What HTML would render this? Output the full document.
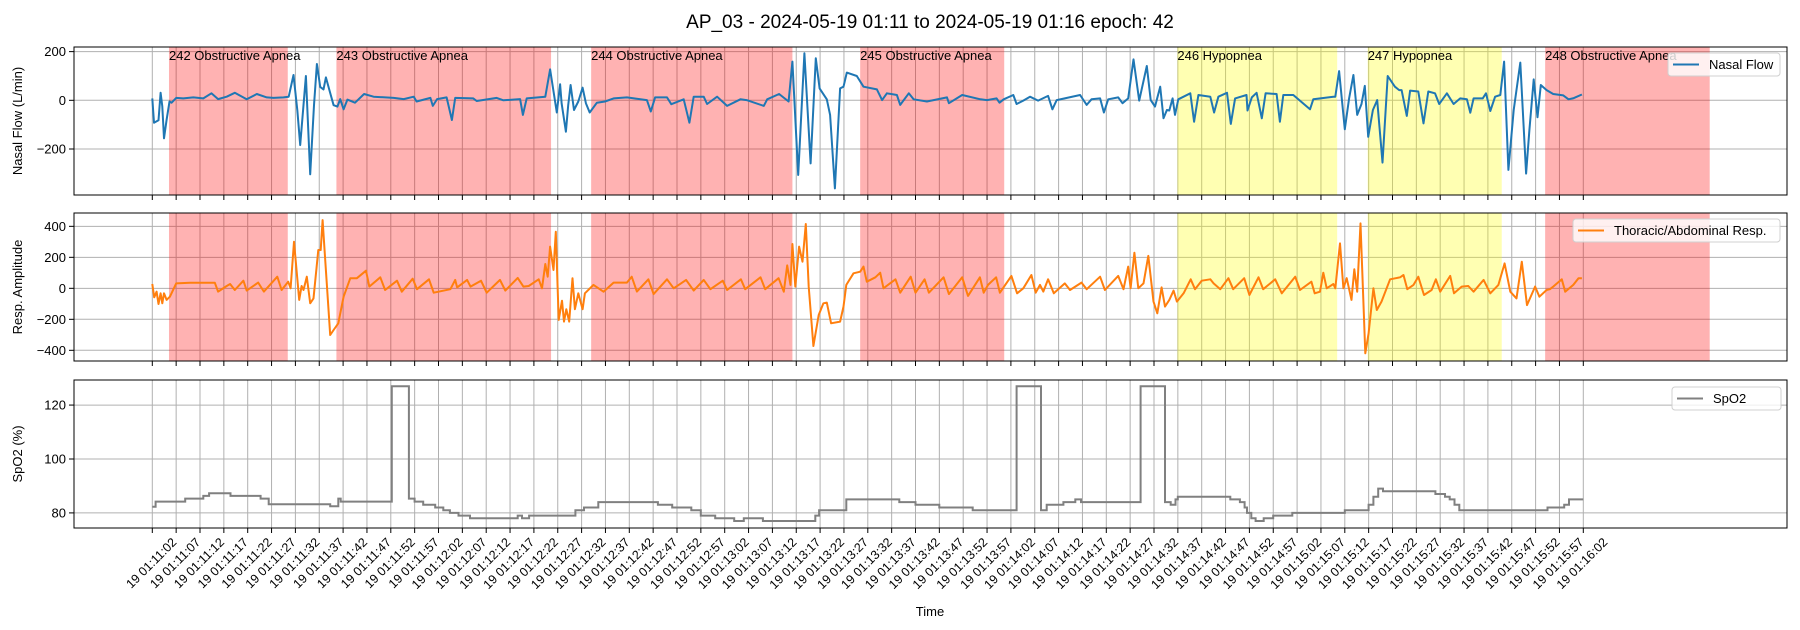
<!DOCTYPE html>
<html><head><meta charset="utf-8"><style>
body{margin:0;background:#fff}
svg{display:block;font-family:"Liberation Sans","DejaVu Sans",sans-serif}
</style></head><body>
<svg id="chart" width="1800" height="630" viewBox="0 0 1800 630" xmlns="http://www.w3.org/2000/svg">
<text x="930" y="28" font-size="19" text-anchor="middle">AP_03 - 2024-05-19 01:11 to 2024-05-19 01:16 epoch: 42</text>
<text x="930" y="616" font-size="13" text-anchor="middle">Time</text>
</svg>
<script>
const flowT=[0,0.35,1.3,1.75,2.1,2.45,3,3.6,4.05,5,6.5,8.6,10.7,12.4,13.8,15.6,17.3,19.8,21.9,24,25.4,27.5,28.6,29.6,30.4,31,32.2,33.1,33.9,34.5,35.2,35.9,36.4,37.3,38,38.8,39.4,40.1,40.9,42.5,44.4,46.4,50.6,52.7,54.8,55.4,58.3,58.8,59.7,61.7,62.8,63.5,67.3,68,72.2,73.6,77.1,77.7,78.5,82.4,83.4,84.8,85.5,85.8,86.7,87.2,87.7,88.4,89.3,90.2,90.9,91.7,93.2,94.9,96.7,99.5,103.7,104.5,105.4,107.9,108.8,111.4,112.6,113.5,115.6,116.3,118.4,120.5,123.3,124.6,128.2,128.9,131.4,133.4,134.2,135.4,136.7,138,139.1,139.9,141.4,142.1,143.1,144.2,144.9,145.6,147.7,149.1,151.9,153,154,156.1,156.8,158.6,159.6,162.4,166.6,167,169.8,173.6,175,177,177.6,178.5,180.5,181.2,182.6,184,185.7,187.8,188.7,189.6,194.5,195.9,196.9,198.7,199.5,200.4,202.5,203.4,204.6,205.7,206.9,208.5,209.3,210.2,211.3,212,212.7,213.2,213.9,214.4,215.1,217.6,218.4,219.3,221.8,222.6,223.5,225.3,226.1,227,229.4,229.6,230.5,231.5,232.6,233.4,235.7,236.4,237.1,239.2,242.7,243.4,247.6,248,248.8,250,250.9,251.8,252.6,253.5,254.2,254.9,255.9,256.8,257.9,259,260.5,261.4,261.9,263,263.7,265.4,266.5,267.5,268.9,269.8,271.4,272.8,274.2,275.6,276.3,277,278.9,279.6,280.5,281.5,282.6,283.4,284.3,285.4,286.8,288,288.7,289.6,290.4,291.1,292.3,293.7,295.8,296.9,298,299.7];
const flowV=[8,-92,-82,31,-25,-156,-80,-5,-10,10,8,12,8,29,5,15,31,4,26,12,10,12,15,104,-40,-184,100,-304,-20,149,55,45,94,30,-20,-26,5,-37,3,-10,26,15,10,5,15,-5,10,-23,5,12,-81,10,8,-3,10,0,5,-60,8,15,127,-50,66,-12,-129,-20,63,-40,-5,52,-12,-50,-10,-5,8,12,1,-46,12,12,-16,4,-92,15,15,-15,15,-23,4,1,-23,4,26,-5,159,-307,193,-259,173,49,4,-60,-362,49,56,114,100,56,45,1,29,22,-19,29,4,-5,12,-12,22,4,1,8,-10,4,22,-15,-1,15,-1,18,-37,1,22,-19,4,8,-50,4,12,-12,8,168,-1,141,1,-26,56,-74,-40,-42,8,-60,4,29,-88,22,15,-50,15,31,-97,8,22,-42,12,31,-74,29,26,-88,22,22,-37,4,15,15,120,-119,8,104,-60,-15,59,-150,-40,1,-256,100,56,42,42,-64,40,36,-95,36,29,-15,29,-15,8,4,-51,8,8,29,-44,15,22,159,-286,-40,155,-301,-122,86,-70,63,42,26,20,4,9,24];
const respT=[0,0.4,0.9,1.3,1.75,2.1,2.45,3,3.7,5,7.9,11.4,13.1,13.8,15.6,16.3,17.3,19.1,19.8,22.2,23.4,26.2,27.1,28.5,29,29.7,30.8,31.3,31.7,32.4,33.1,33.8,34.8,35.3,35.7,36.2,37.3,38,39,40.1,41.5,42.9,44.8,45.5,47.8,48.8,51.3,52.3,54.6,55.5,58,59,62.5,63.5,63.9,66,66.7,68.9,70.1,72.9,74,76.6,77.8,78.9,81,81.7,82.4,82.9,83.4,84.1,84.6,85.2,85.9,86.3,86.8,87.4,88.1,88.6,89.3,90.2,90.7,92.5,94.6,96.7,99.5,100.5,101.6,104,105.1,107.9,109.3,111.9,113.5,115.6,117,119.6,120.5,123.4,124.3,127.5,128.5,131.3,132.4,133.1,133.8,134.2,134.8,135.6,136.3,137,137.6,138.6,139.7,140.7,141.4,142.3,144.2,144.9,145.5,147,148.4,149.1,149.8,151.6,152.6,153.3,155.8,156.8,159,160,161.9,162.8,165.9,167,169.8,171,173.5,174.3,175.2,176.9,177.7,180.1,181.3,182.6,184.3,185.2,186.1,186.8,187.8,189,191.3,192.4,194.8,195.9,198.7,199.7,202.5,203.6,204.6,205.1,205.9,206.7,207.8,208.8,209.9,210.7,211.6,212.3,213.2,214.1,214.8,216.2,217.7,218.6,220,221.8,222.5,223.9,225.6,226.6,228.9,230,231.9,232.9,235.4,236.8,239.6,240.6,243,243.7,244.8,245.5,246.2,247.6,248,249,249.7,250.4,251.4,252,252.6,253.3,254.3,255,256,256.7,257.7,259.5,261.6,262.3,263.1,264.4,265.4,266.6,268.2,269.1,270,272.1,272.9,274.5,275.9,277,279.1,280.5,282.2,283.5,284.7,286,287.1,288.2,289.9,290.8,292.3,293,293.7,295.5,296.2,297.9,299,299.7];
const respV=[28,-58,-22,-101,-32,-97,-32,-75,-54,32,36,36,36,-21,15,28,-11,49,-15,37,-21,75,-11,43,0,301,-75,15,-11,75,-97,-65,247,247,440,204,-301,-269,-226,-54,65,65,114,11,71,-11,49,-22,62,-6,58,-28,-6,54,6,54,11,49,-28,54,-15,67,11,15,58,0,157,75,269,118,365,-204,-80,-215,-135,-215,65,-135,-32,-135,-32,22,-22,37,37,75,-21,58,-37,58,0,54,-15,54,-6,49,-11,58,-6,71,-6,65,-22,148,22,286,11,269,172,415,11,-372,-172,-97,-92,-226,-215,-118,22,97,107,140,43,71,101,0,58,-28,75,-28,58,-28,71,-37,71,-49,71,-28,22,71,-28,80,-32,0,86,-28,22,-21,58,-32,32,-11,37,-6,75,-11,80,-6,140,0,230,0,32,209,-86,-161,6,-118,-75,-15,-86,-32,58,-6,49,58,32,-6,65,-6,65,-43,71,-6,58,-32,75,-11,43,-32,-22,101,0,28,0,290,0,65,-75,123,-22,419,-419,-290,0,-140,-86,58,71,86,-6,22,75,-43,-11,58,-22,80,-32,11,15,-22,54,-32,22,161,-22,-65,172,-108,11,-54,-11,-6,11,58,-22,22,65,65];
const spoT=[0,0.7,6.9,10.7,11.9,16.4,22.7,24.4,37,37.3,39,39.5,50.2,53.8,55,56.8,59.3,61,62.4,64.2,66.6,76.6,77.5,79,88.7,90.5,93.5,106,109,113,115,118,122,124,128,139,139.8,145.5,156.6,160,165,172,181.2,186.3,187.5,191,193.5,194.7,207.2,212.3,213.5,214.5,215,226,228,229,229.5,230.4,231.3,233,235,239,250,255,256,257,258,269,271,272,273,274,292.5,296,297,300];
const spoV=[82.3,84.2,85.3,86.3,87.3,86.3,85.3,83.2,83.2,82.5,85.3,84.2,127,85.3,84.2,83,82,81,80,79,78,79,78,79,81,82,84,83,82,81,79,78,77,78,77,79,81,85,84,83,82,81,127,81,83,84,85,84,127,84,83,85,86,85,84,82,80,78,77,78,79,80,81,83,86,89,88,87,86,85,83,81,82,83,85,85];
const evStart=[3.5,38.6,92.0,148.4,214.9,254.8,292.0];
const evEnd=[28.4,83.6,134.2,178.6,248.4,282.9,326.5];
const evLabel=["242 Obstructive Apnea","243 Obstructive Apnea","244 Obstructive Apnea","245 Obstructive Apnea","246 Hypopnea","247 Hypopnea","248 Obstructive Apnea"];
const evKind=["apnea","apnea","apnea","apnea","hypopnea","hypopnea","apnea"];
const flowTicks=[200,0,-200];
const respTicks=[400,200,0,-200,-400];
const spoTicks=[80,100,120];

const NS="http://www.w3.org/2000/svg";
const svg=document.getElementById('chart');
const X0=74,X1=1787;
function xOf(t){return 152.3+t*4.77;}
const panels=[
 {top:47,bot:195,vmin:-389,vmax:219,ticks:flowTicks,label:"Nasal Flow (L/min)",name:"nasal-flow"},
 {top:213,bot:361,vmin:-469,vmax:486,ticks:respTicks,label:"Resp. Amplitude",name:"resp"},
 {top:380,bot:528,vmin:74.4,vmax:129.3,ticks:spoTicks,label:"SpO2 (%)",name:"spo2"}];
function yOf(p,v){return p.bot-(v-p.vmin)/(p.vmax-p.vmin)*(p.bot-p.top);}
function mk(tag,attrs,parent){const e=document.createElementNS(NS,tag);for(const k in attrs)e.setAttribute(k,attrs[k]);(parent||svg).appendChild(e);return e;}
function fmt(v){return v<0?"\u2212"+(-v):String(v);}
const nT=61;
panels.forEach((p,pi)=>{
  const g=mk('g',{});
  
  
  mk('rect',{x:X0,y:p.top,width:X1-X0,height:p.bot-p.top,fill:'#fff'},g);
  for(let i=0;i<nT;i++){const x=xOf(i*5);mk('line',{x1:x,x2:x,y1:p.top,y2:p.bot,stroke:'#b0b0b0','stroke-width':1},g);
    mk('line',{x1:x,x2:x,y1:p.bot,y2:p.bot+5,stroke:'#000','stroke-width':1},g);}
  p.ticks.forEach(v=>{const y=yOf(p,v);mk('line',{x1:X0,x2:X1,y1:y,y2:y,stroke:'#b0b0b0','stroke-width':1},g);
    mk('line',{x1:X0-5,x2:X0,y1:y,y2:y,stroke:'#000','stroke-width':1},g);
    const t=mk('text',{x:X0-8,y:y+4.5,'font-size':13,'text-anchor':'end'},g);t.textContent=fmt(v);
    
    });
  const yl=mk('text',{x:0,y:0,'font-size':13,'text-anchor':'middle',transform:`translate(22,${(p.top+p.bot)/2}) rotate(-90)`},g);
  yl.textContent=p.label;
  
  
  if(pi<2){
    evStart.forEach((s,i)=>{const r=mk('rect',{x:xOf(s),y:p.top,width:xOf(evEnd[i])-xOf(s),height:p.bot-p.top,fill:evKind[i]==='apnea'?'#ff0000':'#ffff00','fill-opacity':0.3},g);
      
      });
  }
  p.g=g;
});
function pathFrom(p,T,V,step){let d='';for(let i=0;i<T.length;i++){const x=xOf(T[i]),y=yOf(p,V[i]);
  if(i===0)d+='M'+x.toFixed(1)+','+y.toFixed(1);else{if(step)d+='H'+x.toFixed(1);d+='L'+x.toFixed(1)+','+y.toFixed(1);}}return d;}
const l1=mk('path',{d:pathFrom(panels[0],flowT,flowV,false),fill:'none',stroke:'#1f77b4','stroke-width':2,'stroke-linejoin':'round'},panels[0].g);


const l2=mk('path',{d:pathFrom(panels[1],respT,respV,false),fill:'none',stroke:'#ff7f0e','stroke-width':2,'stroke-linejoin':'round'},panels[1].g);


const l3=mk('path',{d:pathFrom(panels[2],spoT,spoV,true),fill:'none',stroke:'#808080','stroke-width':2},panels[2].g);


evStart.forEach((s,i)=>{const t=mk('text',{x:xOf(s),y:60,'font-size':13},panels[0].g);t.textContent=evLabel[i];
  
  });
panels.forEach(p=>{mk('rect',{x:X0,y:p.top,width:X1-X0,height:p.bot-p.top,fill:'none',stroke:'#000','stroke-width':1},p.g);});
function legend(p,x,y,w,color,label,name){const g=mk('g',{},p.g);
  
  
  mk('rect',{x:x,y:y,width:w,height:23,rx:3,fill:'#fff','fill-opacity':0.8,stroke:'#d0d0d0'},g);
  mk('line',{x1:x+5,x2:x+31,y1:y+11.5,y2:y+11.5,stroke:color,'stroke-width':2},g);
  const t=mk('text',{x:x+41,y:y+16,'font-size':13},g);t.textContent=label;}
legend(panels[0],1668,53,112,'#1f77b4','Nasal Flow','legend-nasal-flow');
legend(panels[1],1573,219,207,'#ff7f0e','Thoracic/Abdominal Resp.','legend-resp');
legend(panels[2],1672,387,109,'#808080','SpO2','legend-spo2');
for(let i=0;i<nT;i++){const s=11*60+2+i*5;const mm=Math.floor(s/60),ss=s%60;
  const lab='19 01:'+String(mm).padStart(2,'0')+':'+String(ss).padStart(2,'0');
  const x=xOf(i*5)+25,y=543;
  const t=mk('text',{x:x,y:y,'font-size':12.5,'text-anchor':'end',transform:`rotate(-45 ${x} ${y})`});
  t.textContent=lab;
  
  }
</script>
</body></html>
